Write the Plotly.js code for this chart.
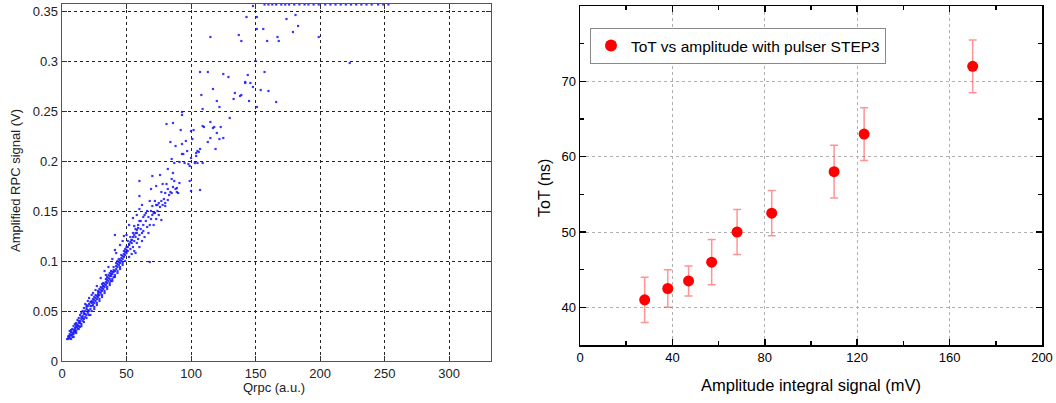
<!DOCTYPE html>
<html>
<head>
<meta charset="utf-8">
<script src="https://cdn.plot.ly/plotly-3.0.1.min.js"></script>
<style>
  html, body { margin: 0; padding: 0; background: #ffffff; }
  #chart { width: 1056px; height: 403px; }
</style>
</head>
<body>
<div id="chart"></div>
<script>
// ---------- Left panel: amplified RPC signal vs Qrpc ----------
const qrpc = [
  4,5,5,6,6,6,7,7,7,8,8,8,9,9,9,10,10,10,11,11,11,12,12,12,13,13,13,14,14,14,15,15,15,16,16,16,17,17,17,18,18,18,19,19,19,20,20,20,
  21,21,21,22,22,22,23,23,23,24,24,24,25,25,25,26,26,26,27,27,27,28,28,28,29,29,29,30,30,30,31,31,31,32,32,32,33,33,33,34,34,34,35,35,35,36,36,36,37,37,37,38,38,38,39,39,39,40,40,40,
  41,41,41,41,42,42,42,43,43,43,44,44,45,45,45,46,46,47,47,47,48,48,48,49,49,49,50,50,50,51,51,52,52,52,53,53,54,54,54,55,55,55,56,56,56,57,57,57,58,58,58,59,59,60,60,60,60,60,60,
  61,61,62,62,62,63,63,63,64,64,65,65,66,66,67,67,68,68,68,69,69,69,70,70,70,71,71,72,72,73,73,73,74,74,75,75,76,76,77,77,77,78,78,79,80,80,80,81,81,82,82,82,83,84,84,85,85,85,86,86,86,87,87,88,88,89,89,90,
  91,91,92,93,93,93,93,94,95,96,97,98,99,99,100,100,100,101,102,103,104,104,105,105,106,107,107,107,108,109,109,109,110,113,113,115,115,115,117,117,118,119,120,120,122,122,123,125,125,129,130,
  133,134,137,138,139,139,142,142,144,145,146,148,148,143,150,151,151,151,154,156,157,159,160,166,167,168,174,179,181,183,199,223,
  157,160,163,166,170,173,176,180,184,188,191,195,199,204,208,212,216,220,224,228,232,236,240,245,249,253,
  5,6,7,8,9,10,11,12,13,14,15,16,17,18,19,20,22,23,24,25,26,27,28,29,30,31,32,33,34,35,36,37,38,39,40,42,43,44,45,46,47,48,49,50,51,52,53,54,55,56,57,58,59,
  9,11,13,15,17,19,21,23,25,27,29,31,33,35,37,39,41,43,45,47
];
const ampV = [
  0.022,0.022,0.025,0.023,0.027,0.030,0.022,0.026,0.029,0.024,0.028,0.032,0.027,0.031,0.035,0.029,0.033,0.037,0.030,0.034,0.038,0.032,0.036,0.041,0.035,0.038,0.043,0.034,0.040,0.046,0.037,0.042,0.048,0.040,0.045,0.050,0.042,0.047,0.053,0.044,0.050,0.057,0.046,0.052,0.056,0.048,0.055,0.060,
  0.050,0.057,0.063,0.046,0.052,0.059,0.055,0.060,0.066,0.056,0.062,0.068,0.052,0.058,0.064,0.060,0.066,0.071,0.056,0.062,0.075,0.064,0.070,0.066,0.060,0.066,0.072,0.068,0.074,0.083,0.064,0.070,0.077,0.072,0.078,0.075,0.068,0.074,0.090,0.076,0.082,0.086,0.072,0.078,0.084,0.080,0.086,0.094,0.076,0.082,0.088,0.085,0.090,0.080,0.080,0.087,0.102,0.089,0.094,0.084,
  0.084,0.090,0.126,0.111,0.092,0.098,0.108,0.088,0.094,0.100,0.096,0.102,0.092,0.098,0.116,0.100,0.106,0.096,0.102,0.120,0.104,0.110,0.125,0.100,0.106,0.112,0.108,0.114,0.126,0.110,0.120,0.104,0.116,0.136,0.112,0.124,0.107,0.118,0.121,0.114,0.128,0.143,0.110,0.120,0.135,0.124,0.132,0.108,0.118,0.128,0.146,0.122,0.136,0.114,0.126,0.152,0.140,0.165,0.180,
  0.132,0.140,0.120,0.128,0.156,0.130,0.136,0.144,0.124,0.146,0.140,0.148,0.134,0.150,0.128,0.144,0.099,0.136,0.160,0.142,0.150,0.172,0.146,0.155,0.185,0.136,0.148,0.148,0.160,0.142,0.156,0.175,0.150,0.156,0.146,0.158,0.154,0.186,0.141,0.160,0.169,0.156,0.177,0.162,0.155,0.158,0.168,0.177,0.237,0.161,0.172,0.192,0.166,0.169,0.219,0.168,0.182,0.202,0.174,0.188,0.238,0.180,0.198,0.172,0.215,0.169,0.173,0.168,
  0.178,0.199,0.231,0.207,0.217,0.249,0.246,0.207,0.198,0.220,0.210,0.197,0.180,0.195,0.170,0.203,0.230,0.222,0.231,0.198,0.205,0.208,0.198,0.210,0.209,0.171,0.212,0.289,0.266,0.198,0.235,0.252,0.234,0.219,0.289,0.223,0.239,0.324,0.233,0.272,0.234,0.212,0.228,0.260,0.222,0.254,0.234,0.223,0.287,0.284,0.243,
  0.262,0.268,0.326,0.265,0.320,0.266,0.279,0.278,0.286,0.260,0.278,0.274,0.355,0.344,0.300,0.332,0.344,0.254,0.271,0.332,0.289,0.320,0.270,0.259,0.324,0.320,0.342,0.329,0.346,0.335,0.324,0.298,
  0.3565,0.3565,0.3565,0.3565,0.3565,0.3565,0.3565,0.3565,0.3565,0.3565,0.3565,0.3565,0.3565,0.3565,0.3565,0.3565,0.3565,0.3565,0.3565,0.3565,0.3565,0.3565,0.3565,0.3565,0.3565,0.3565,
  0.024,0.025,0.031,0.026,0.029,0.031,0.036,0.034,0.040,0.038,0.044,0.043,0.049,0.047,0.054,0.051,0.055,0.058,0.059,0.061,0.063,0.065,0.068,0.069,0.071,0.073,0.075,0.077,0.079,0.081,0.083,0.085,0.087,0.089,0.091,0.095,0.097,0.099,0.101,0.103,0.105,0.107,0.109,0.111,0.114,0.117,0.119,0.121,0.124,0.126,0.128,0.131,0.133,
  0.024,0.028,0.032,0.035,0.039,0.043,0.046,0.050,0.054,0.058,0.062,0.066,0.070,0.074,0.078,0.082,0.086,0.090,0.094,0.098
];
const leftXTicks = [0, 50, 100, 150, 200, 250, 300];
const leftYTicks = [0, 0.05, 0.1, 0.15, 0.2, 0.25, 0.3, 0.35];
const leftYLabels = ["0", "0.05", "0.1", "0.15", "0.2", "0.25", "0.3", "0.35"];

// ---------- Right panel: ToT vs amplitude ----------
const amplitude = [28, 38, 47, 57, 68, 83, 110, 123, 170];
const tot       = [41, 42.5, 43.5, 46, 50, 52.5, 58, 63, 72];
const totErr    = [3, 2.5, 2, 3, 3, 3, 3.5, 3.5, 3.5];
const rightXTicks = [0, 40, 80, 120, 160, 200];
const rightYTicks = [40, 50, 60, 70, 80];
const seriesName = "ToT vs amplitude with pulser STEP3";

const W = 1056, H = 403;
const px = v => v / W;
const py = v => 1 - v / H;

const traces = [
  {
    x: qrpc, y: ampV, type: 'scatter', mode: 'markers',
    xaxis: 'x', yaxis: 'y', showlegend: false, hoverinfo: 'x+y',
    marker: { symbol: 'square', size: 2.2, color: 'rgba(20,20,255,0.85)', line: { width: 0 } }
  },
  {
    x: amplitude, y: tot, type: 'scatter', mode: 'markers',
    xaxis: 'x2', yaxis: 'y2', name: seriesName, showlegend: true,
    marker: { symbol: 'circle', size: 11, color: '#ff0000', line: { width: 0 } },
    error_y: { type: 'data', array: totErr, visible: true, color: 'rgba(255,60,60,0.55)', thickness: 1.5, width: 4 }
  }
];

const fontL = 'Liberation Sans, Arial, Helvetica, sans-serif';

const layout = {
  width: W, height: H,
  margin: { l: 0, r: 0, t: 0, b: 0 },
  paper_bgcolor: '#ffffff', plot_bgcolor: '#ffffff',
  font: { family: fontL, color: '#000' },
  showlegend: true,
  legend: {
    x: px(590), y: py(28), xanchor: 'left', yanchor: 'top',
    bgcolor: '#ffffff', bordercolor: '#888', borderwidth: 1,
    font: { family: fontL, size: 15.5, color: '#000' },
    itemsizing: 'constant'
  },
  xaxis: {
    domain: [px(62), px(491)], range: [0, 332.5], anchor: 'y',
    tickvals: leftXTicks, ticks: 'inside', ticklen: 5, tickcolor: '#333', tickwidth: 1,
    showline: true, linecolor: '#555', linewidth: 1.3, mirror: 'ticks',
    showgrid: true, gridcolor: '#222', griddash: '3px,3px', gridwidth: 1,
    zeroline: false, tickfont: { family: fontL, size: 13, color: '#222' }
  },
  yaxis: {
    domain: [1 - 361 / H, 1 - 4 / H], range: [0, 0.357], anchor: 'x',
    tickvals: leftYTicks, ticktext: leftYLabels, ticks: 'inside', ticklen: 5, tickcolor: '#333', tickwidth: 1,
    showline: true, linecolor: '#555', linewidth: 1.3, mirror: 'ticks',
    showgrid: true, gridcolor: '#222', griddash: '3px,3px', gridwidth: 1,
    zeroline: false, tickfont: { family: fontL, size: 13, color: '#222' }
  },
  xaxis2: {
    domain: [px(580), px(1042)], range: [0, 200], anchor: 'y2',
    tickvals: rightXTicks, ticks: 'inside', ticklen: 6, tickcolor: '#000', tickwidth: 1.5,
    minor: { dtick: 20, tick0: 0, ticks: 'inside', ticklen: 4, tickcolor: '#000', tickwidth: 1.5, showgrid: false },
    showline: true, linecolor: '#000', linewidth: 1.5, mirror: 'ticks',
    showgrid: true, gridcolor: '#b0b0b0', griddash: 'dot', gridwidth: 1,
    zeroline: false, tickfont: { family: fontL, size: 13, color: '#000' }
  },
  yaxis2: {
    domain: [1 - 345 / H, 1 - 6 / H], range: [35, 80], anchor: 'x2',
    tickvals: rightYTicks, ticks: 'inside', ticklen: 6, tickcolor: '#000', tickwidth: 1.5,
    minor: { dtick: 5, tick0: 0, ticks: 'inside', ticklen: 4, tickcolor: '#000', tickwidth: 1.5, showgrid: false },
    showline: true, linecolor: '#000', linewidth: 1.5, mirror: 'ticks',
    showgrid: true, gridcolor: '#b0b0b0', griddash: 'dot', gridwidth: 1,
    zeroline: false, tickfont: { family: fontL, size: 13, color: '#000' }
  },
  annotations: [
    { text: 'Amplified RPC signal (V)', xref: 'paper', yref: 'paper', x: px(15), y: py(181),
      textangle: -90, showarrow: false, xanchor: 'center', yanchor: 'middle',
      font: { family: fontL, size: 13, color: '#222' } },
    { text: 'Qrpc (a.u.)', xref: 'paper', yref: 'paper', x: px(274), y: py(387),
      showarrow: false, xanchor: 'center', yanchor: 'middle',
      font: { family: fontL, size: 13, color: '#222' } },
    { text: 'ToT (ns)', xref: 'paper', yref: 'paper', x: px(545), y: py(188),
      textangle: -90, showarrow: false, xanchor: 'center', yanchor: 'middle',
      font: { family: fontL, size: 16, color: '#000' } },
    { text: 'Amplitude integral signal (mV)', xref: 'paper', yref: 'paper', x: px(811), y: py(385),
      showarrow: false, xanchor: 'center', yanchor: 'middle',
      font: { family: fontL, size: 16.5, color: '#000' } }
  ]
};

Plotly.newPlot('chart', traces, layout, { displayModeBar: false, staticPlot: true });
</script>
</body>
</html>
